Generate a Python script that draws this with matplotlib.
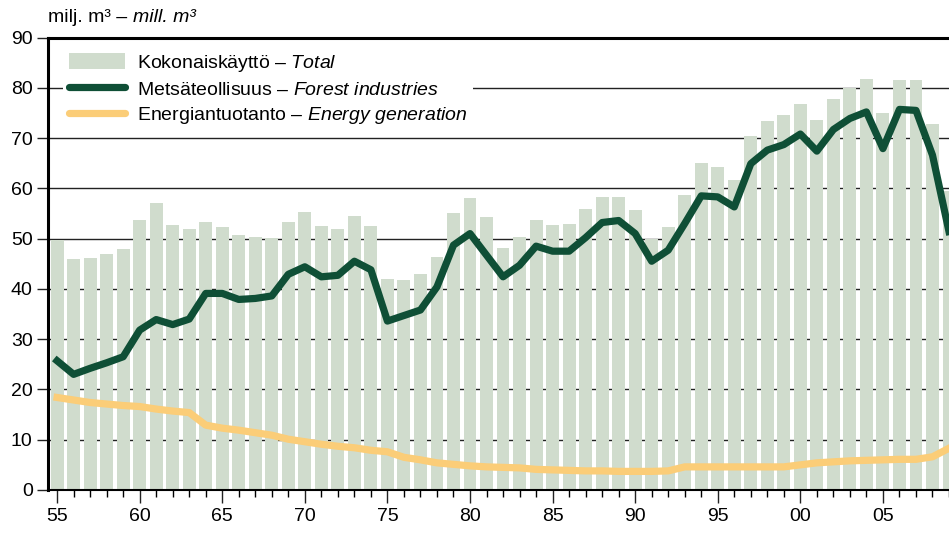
import numpy as np
import matplotlib.pyplot as plt
from matplotlib.lines import Line2D
from matplotlib.patches import Patch
from matplotlib.transforms import offset_copy

plt.rcParams['font.family'] = ['Liberation Sans', 'DejaVu Sans']
plt.rcParams['mathtext.fontset'] = 'custom'
plt.rcParams['mathtext.rm'] = 'Liberation Sans'
plt.rcParams['mathtext.it'] = 'Liberation Sans:italic'

# Wood use, million m3, 1955-2009
years = np.arange(1955, 2010)
total = [49.8, 45.9, 46.1, 46.9, 47.9, 53.8, 57.0, 52.8, 51.9, 53.4,
         52.3, 50.7, 50.3, 50.1, 53.4, 55.2, 52.5, 51.9, 54.4, 52.5,
         41.9, 41.7, 42.9, 46.3, 55.0, 58.0, 54.2, 48.1, 50.3, 53.8,
         52.8, 53.0, 55.8, 58.2, 58.2, 55.6, 49.9, 52.3, 58.6, 65.0,
         64.2, 61.6, 70.4, 73.4, 74.6, 76.7, 73.6, 77.7, 79.9, 81.7,
         74.9, 81.5, 81.5, 72.8, 59.4]
forest = [25.7, 23.0, 24.2, 25.3, 26.5, 31.8, 33.9, 32.9, 34.0, 39.1,
          39.1, 37.9, 38.1, 38.6, 42.9, 44.4, 42.4, 42.7, 45.5, 43.8,
          33.6, 34.7, 35.8, 40.4, 48.7, 51.0, 46.7, 42.4, 44.7, 48.5,
          47.5, 47.5, 50.2, 53.2, 53.6, 51.0, 45.5, 47.7, 53.0, 58.5,
          58.3, 56.3, 64.9, 67.6, 68.7, 70.8, 67.4, 71.7, 73.9, 75.2,
          67.9, 75.7, 75.5, 66.6, 51.4]
energy = [18.4, 17.9, 17.4, 17.1, 16.8, 16.6, 16.1, 15.7, 15.4, 12.9,
          12.3, 11.9, 11.4, 10.9, 10.1, 9.6, 9.1, 8.7, 8.4, 7.9,
          7.6, 6.5, 6.0, 5.4, 5.1, 4.8, 4.6, 4.5, 4.4, 4.1,
          4.0, 3.9, 3.8, 3.8, 3.7, 3.7, 3.7, 3.8, 4.6, 4.6,
          4.6, 4.6, 4.6, 4.6, 4.6, 5.0, 5.4, 5.6, 5.8, 5.9,
          6.0, 6.1, 6.1, 6.6, 8.3]

bar_col = '#d0dccd'
forest_col = '#0f4f36'
energy_col = '#fbcd78'
fs = 14

fig = plt.figure(figsize=(9.49, 5.36), dpi=100)
ax = fig.add_axes([48/949, 46/536, 901/949, 452.5/536])

ax.bar(years, total, width=0.78, color=bar_col, zorder=1)
ax.plot(years, forest, color=forest_col, lw=5.2, solid_joinstyle='round', zorder=3)
ax.plot(years, energy, color=energy_col, lw=5.2, solid_joinstyle='round', zorder=2)

ax.set_xlim(1954.45, 2009.0)
ax.set_ylim(0, 90)
ax.set_yticks(range(0, 91, 10))
ax.set_xticks(range(1955, 2009, 5))
ax.set_xticklabels(['%02d' % (y % 100) for y in range(1955, 2009, 5)])
ax.set_xticks(years, minor=True)
ax.tick_params(axis='both', labelsize=fs, color='#222222')
ax.tick_params(axis='y', length=8, width=1, pad=3)
ax.tick_params(axis='x', which='major', length=9, width=1, pad=4)
ax.tick_params(axis='x', which='minor', length=5, width=1)

ax.grid(axis='y', color='#222222', lw=1.0)
ax.set_axisbelow(True)
ax.spines['right'].set_visible(False)
ax.spines['top'].set_linewidth(2.2)
ax.spines['left'].set_linewidth(2.2)
ax.spines['bottom'].set_linewidth(1.5)

handles = [
    Patch(facecolor=bar_col, edgecolor='none'),
    Line2D([], [], color=forest_col, lw=5.2, solid_capstyle='round'),
    Line2D([], [], color=energy_col, lw=5.2, solid_capstyle='round'),
]
labels = [
    r'Kokonaiskäyttö – $\it{Total}$',
    r'Metsäteollisuus – $\it{Forest\ industries}$',
    r'Energiantuotanto – $\it{Energy\ generation}$',
]
leg = ax.legend(handles, labels, loc='upper left', bbox_to_anchor=(0.012, 0.988),
                fontsize=fs, frameon=True, fancybox=False, framealpha=1,
                facecolor='white', edgecolor='none', handlelength=2.9,
                handleheight=0.9, handletextpad=0.6, labelspacing=0.33,
                borderpad=0.3, borderaxespad=0.2)
leg.set_zorder(5)

# unit label: upright part followed by italic part
t1 = fig.text(48/949, 1 - 18/536, 'milj. m³ – ', fontsize=fs, va='center', ha='left')
fig.canvas.draw()
w = t1.get_window_extent().width
fig.text(48/949, 1 - 18/536, 'mill. m³', fontsize=fs, style='italic', va='center',
         ha='left', transform=offset_copy(fig.transFigure, fig=fig, x=w, y=0, units='dots'))

fig.savefig('out.png', dpi=100)
